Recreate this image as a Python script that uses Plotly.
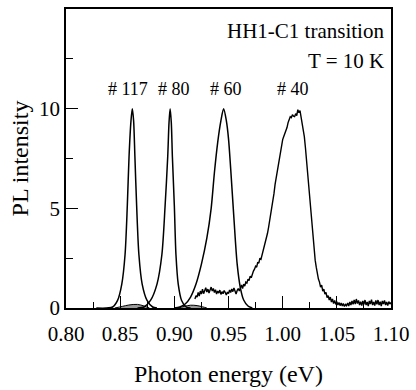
import numpy as np
import plotly.graph_objects as go

# ---- data ----
# sample #117 (smooth peak)
e117 = [0.828, 0.843, 0.8476, 0.8515, 0.8545, 0.8566, 0.8582, 0.8600, 0.8612,
        0.8624, 0.8636, 0.8652, 0.8673, 0.8703, 0.8748, 0.880, 0.884]
i117 = [0.0, 0.05, 0.38, 1.2, 2.67, 5.14, 7.6, 9.4, 10.0,
        9.4, 7.6, 5.14, 2.67, 1.2, 0.38, 0.05, 0.0]

# sample #80 (smooth peak)
e80 = [0.866, 0.872, 0.878, 0.884, 0.8885, 0.8915, 0.8939, 0.8951, 0.8961,
       0.8972, 0.8982, 0.900, 0.9015, 0.9036, 0.9067, 0.911, 0.915]
i80 = [0.0, 0.05, 0.38, 1.2, 2.67, 5.14, 7.6, 9.3, 10.0,
       9.3, 7.6, 5.14, 2.67, 1.2, 0.38, 0.05, 0.0]

# sample #60 (smooth, asymmetric peak)
e60 = [0.900, 0.905, 0.910, 0.915, 0.920, 0.925, 0.930, 0.934, 0.937, 0.940,
       0.943, 0.9455, 0.948, 0.950, 0.952, 0.955, 0.958, 0.961, 0.964, 0.968, 0.972]
i60 = [0.0, 0.05, 0.2, 0.55, 1.2, 2.2, 3.5, 5.0, 6.8, 8.3,
       9.4, 10.0, 9.4, 8.5, 7.0, 4.5, 2.2, 1.0, 0.4, 0.1, 0.0]

# sample #40 (broad noisy spectrum), energies 0.919 ... 1.100 eV in 1 meV steps
e40 = np.round(np.arange(0.919, 1.1005, 0.001), 3)
i40 = [0.45, 0.62, 0.55, 0.78, 0.60, 0.85, 0.70, 0.95, 0.72, 0.88,
       1.02, 0.80, 0.95, 0.75, 0.90, 1.05, 0.85, 0.98, 0.78, 0.92,
       0.70, 0.85, 0.75, 0.90, 0.68, 0.82, 0.72, 0.88, 0.78, 0.65,
       0.80, 0.72, 0.90, 0.78, 0.95, 0.82, 1.00, 0.85, 0.70, 0.88,
       0.98, 0.85, 1.05, 1.15, 0.98, 1.20, 1.10, 1.30, 1.25, 1.45,
       1.38, 1.60, 1.52, 1.75, 1.85, 1.95, 2.10, 2.05, 2.30, 2.25,
       2.50, 2.45, 2.65, 2.85, 3.05, 3.30, 3.55, 3.75, 4.05, 4.35,
       4.65, 5.00, 5.40, 5.75, 6.20, 6.55, 6.90, 7.30, 7.60, 7.95,
       8.30, 8.45, 8.60, 8.75, 8.85, 9.05, 9.30, 9.45, 9.60, 9.55,
       9.70, 9.62, 9.60, 9.75, 9.65, 9.95, 9.80, 9.90, 9.55, 9.35,
       9.05, 8.60, 8.05, 7.40, 6.70, 6.00, 5.30, 4.60, 3.95, 3.35,
       2.85, 2.40, 2.05, 1.70, 1.45, 1.30, 1.05, 1.15, 0.85, 0.95,
       0.70, 0.78, 0.52, 0.62, 0.40, 0.55, 0.30, 0.45, 0.22, 0.38,
       0.18, 0.32, 0.15, 0.28, 0.12, 0.25, 0.10, 0.22, 0.08, 0.18,
       0.12, 0.25, 0.10, 0.30, 0.15, 0.35, 0.18, 0.40, 0.20, 0.45,
       0.22, 0.38, 0.15, 0.32, 0.12, 0.35, 0.18, 0.40, 0.15, 0.30,
       0.10, 0.35, 0.20, 0.42, 0.15, 0.30, 0.12, 0.38, 0.18, 0.40,
       0.15, 0.32, 0.10, 0.35, 0.20, 0.38, 0.15, 0.30, 0.12, 0.32,
       0.20, 0.28]

# small grey-shaded humps near the baseline
hump1_e = [0.845, 0.852, 0.858, 0.866, 0.872, 0.877]
hump1_i = [0.0, 0.08, 0.15, 0.18, 0.10, 0.0]
hump2_e = [0.904, 0.909, 0.915, 0.921, 0.926, 0.930]
hump2_i = [0.0, 0.08, 0.14, 0.12, 0.06, 0.0]

peak_labels = ["# 117", "# 80", "# 60", "# 40"]
peak_label_x = [0.857, 0.900, 0.9475, 1.0095]
peak_label_y = 11.0

FONT = "Liberation Serif"

fig = go.Figure()

for he, hi in [(hump1_e, hump1_i), (hump2_e, hump2_i)]:
    fig.add_trace(go.Scatter(x=he, y=hi, mode="lines", fill="tozeroy",
                             fillcolor="#9a9a9a",
                             line=dict(color="black", width=1, shape="spline"),
                             showlegend=False, hoverinfo="skip"))

for xs, ys in [(e117, i117), (e80, i80), (e60, i60)]:
    fig.add_trace(go.Scatter(x=xs, y=ys, mode="lines",
                             line=dict(color="black", width=1.5, shape="spline", smoothing=0.8),
                             showlegend=False))

fig.add_trace(go.Scatter(x=e40, y=i40, mode="lines",
                         line=dict(color="black", width=1.4),
                         showlegend=False))

for t, x in zip(peak_labels, peak_label_x):
    fig.add_annotation(x=x, y=peak_label_y, text=t, showarrow=False,
                       xanchor="center", yanchor="middle",
                       font=dict(family=FONT, size=18, color="black"))

fig.add_annotation(x=1.0, y=0.925, xref="paper", yref="paper",
                   text="HH1-C1 transition", showarrow=False, xshift=-5,
                   xanchor="right", yanchor="middle",
                   font=dict(family=FONT, size=21, color="black"))
fig.add_annotation(x=1.0, y=0.825, xref="paper", yref="paper",
                   text="T = 10 K", showarrow=False, xshift=-5,
                   xanchor="right", yanchor="middle",
                   font=dict(family=FONT, size=21, color="black"))

axis_common = dict(showline=True, linecolor="black", linewidth=1.5, mirror=True,
                   ticks="inside", ticklen=12, tickwidth=1.2, tickcolor="black",
                   showgrid=False, zeroline=False,
                   tickfont=dict(family=FONT, size=21, color="black"))

fig.update_xaxes(range=[0.80, 1.10], tickvals=[0.80, 0.85, 0.90, 0.95, 1.00, 1.05, 1.10],
                 ticktext=["0.80", "0.85", "0.90", "0.95", "1.00", "1.05", "1.10"],
                 ticklabelstandoff=6,
                 minor=dict(ticks="inside", ticklen=6, tickwidth=1.2, tickcolor="black",
                            tickvals=[0.825, 0.875, 0.925, 0.975, 1.025, 1.075]),
                 title=dict(text="Photon energy (eV)", standoff=20,
                            font=dict(family=FONT, size=24, color="black")),
                 **axis_common)
fig.update_yaxes(range=[0, 15], tickvals=[0, 5, 10],
                 ticklabelstandoff=0,
                 minor=dict(ticks="inside", ticklen=7, tickwidth=1.2, tickcolor="black",
                            tickvals=[2.5, 7.5, 12.5]),
                 title=dict(text="PL intensity", standoff=4,
                            font=dict(family=FONT, size=24, color="black")),
                 **axis_common)

fig.update_layout(width=416, height=390, margin=dict(l=66, r=20, t=7, b=79),
                  plot_bgcolor="white", paper_bgcolor="white",
                  font=dict(family=FONT, color="black"))

fig.write_html("out.html")
